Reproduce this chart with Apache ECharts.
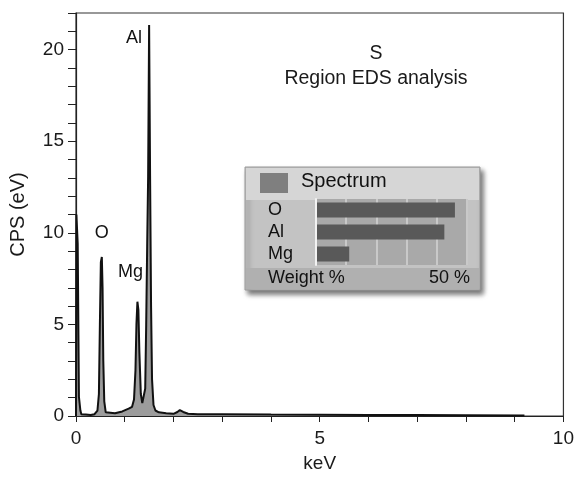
<!DOCTYPE html>
<html lang="en">
<head>
    <meta charset="UTF-8">
    <title>Region EDS analysis</title>
    <script src="https://cdn.jsdelivr.net/npm/echarts@6/dist/echarts.min.js"></script>
    <style>
        * {padding: 0; margin: 0;}
        body {background: #fff;}
        #main {width: 577px; height: 480px;}
    </style>
</head>
<body>
    <div id="main"></div>

    <script>
        // spectrum
        const energy = [0, 0.008, 0.022, 0.035, 0.045, 0.06, 0.07, 0.09, 0.11, 0.14, 0.2,
            0.3, 0.38, 0.44, 0.47, 0.49, 0.51, 0.53, 0.545, 0.56, 0.58,
            0.61, 0.65, 0.8, 0.95, 1.08, 1.15, 1.19, 1.22, 1.24, 1.26,
            1.28, 1.30, 1.33, 1.36, 1.39, 1.42, 1.44, 1.46, 1.48, 1.50,
            1.52, 1.54, 1.56, 1.59, 1.63, 1.7, 1.85, 2.0, 2.08, 2.13,
            2.2, 2.3, 2.5, 3, 4, 5, 6, 7, 8, 9.2]
        const cps = [0, 11.0, 11.0, 9.4, 9.4, 1.05, 1.0, 0.3, 0.1, 0.05, 0.08,
            0.05, 0.1, 0.3, 1.2, 5.0, 8.4, 8.68, 7.0, 3.0, 0.8,
            0.2, 0.1, 0.15, 0.25, 0.4, 0.5, 0.9, 2.5, 5.0, 6.24,
            5.8, 3.5, 1.2, 0.7, 0.6, 1.5, 5.0, 9.24, 13.1, 21.34,
            13.1, 6.0, 2.0, 0.6, 0.3, 0.2, 0.15, 0.12, 0.22, 0.32,
            0.22, 0.12, 0.1, 0.1, 0.08, 0.07, 0.06, 0.05, 0.04, 0.03]

        // peak annotations (keV, cps)
        const peakNames = ['Al', 'O', 'Mg']
        const peakLabelX = [1.19, 0.53, 1.12]
        const peakLabelY = [20.65, 10.0, 7.85]

        // inset: weight %
        const elements = ['O', 'Al', 'Mg']
        const weights = [46, 42.5, 11]

        const xTickLabels = [0, 5, 10]
        const yTickLabels = [0, 5, 10, 15, 20]

        const font = 'Liberation Sans, Arial, sans-serif'
        const chart = echarts.init(document.getElementById('main'))

        chart.setOption({
            animation: false,
            title: {
                text: 'S\nRegion EDS analysis',
                left: 371,
                top: 36,
                textAlign: 'center',
                textStyle: {fontFamily: font, fontSize: 19.5, fontWeight: 'normal', color: '#1a1a1a', lineHeight: 25}
            },
            grid: [
                {left: 76, right: 13, top: 13, bottom: 64, show: true, borderColor: '#333', borderWidth: 1.2, z: 0},
                {left: 316, top: 199, width: 151, height: 66, show: true, backgroundColor: '#a9a9a9', borderWidth: 0, z: 5}
            ],
            xAxis: [{
                type: 'value',
                gridIndex: 0,
                min: 0, max: 10, interval: 1,
                name: 'keV',
                nameLocation: 'middle',
                nameGap: 38,
                nameTextStyle: {fontFamily: font, fontSize: 19, color: '#1a1a1a'},
                axisLine: {lineStyle: {color: '#222', width: 1.2}},
                axisTick: {length: 6, lineStyle: {color: '#222'}},
                axisLabel: {
                    margin: 13, fontFamily: font, fontSize: 19, color: '#1a1a1a',
                    formatter: v => xTickLabels.includes(v) ? String(v) : ''
                },
                splitLine: {show: false}
            }, {
                type: 'value',
                gridIndex: 1,
                z: 6,
                min: 0, max: 50, interval: 10,
                axisLine: {show: false},
                axisTick: {show: false},
                axisLabel: {show: false},
                splitLine: {show: true, lineStyle: {color: '#c9c9c9', width: 2}}
            }],
            yAxis: [{
                type: 'value',
                gridIndex: 0,
                min: 0, max: 22, interval: 1,
                name: 'CPS (eV)',
                nameLocation: 'middle',
                nameGap: 48,
                nameTextStyle: {fontFamily: font, fontSize: 20, color: '#1a1a1a'},
                axisLine: {show: true, lineStyle: {color: '#222', width: 1.2}},
                axisTick: {show: true, length: 8, lineStyle: {color: '#222'}},
                axisLabel: {
                    margin: 12, fontFamily: font, fontSize: 19, color: '#1a1a1a',
                    formatter: v => yTickLabels.includes(v) ? String(v) : ''
                },
                splitLine: {show: false}
            }, {
                type: 'category',
                gridIndex: 1,
                z: 10,
                data: elements,
                inverse: true,
                axisLine: {show: true, lineStyle: {color: '#f2f2f2', width: 2}},
                axisTick: {show: false},
                axisLabel: {interval: 0, align: 'left', margin: 48, fontFamily: font, fontSize: 18, color: '#111'}
            }],
            graphic: [
                {type: 'rect', z: 1, shape: {x: 245, y: 167, width: 235, height: 123},
                    style: {fill: '#c3c3c3', stroke: '#9a9a9a', lineWidth: 1, shadowBlur: 5, shadowOffsetX: 3, shadowOffsetY: 4, shadowColor: 'rgba(0,0,0,0.55)'}},
                {type: 'rect', z: 2, shape: {x: 246, y: 168, width: 233, height: 32}, style: {fill: '#d6d6d6'}},
                {type: 'rect', z: 2, shape: {x: 246, y: 268, width: 233, height: 21}, style: {fill: '#b0b0b0'}},
                {type: 'rect', z: 3, shape: {x: 260, y: 173, width: 28, height: 20}, style: {fill: '#7f7f7f'}},
                {type: 'text', z: 3, left: 301, top: 171,
                    style: {text: 'Spectrum', font: '20px ' + font, fill: '#111'}},
                {type: 'text', z: 3, left: 268, top: 269,
                    style: {text: 'Weight %', font: '18px ' + font, fill: '#111'}},
                {type: 'text', z: 3, right: 107, top: 269,
                    style: {text: '50 %', font: '18px ' + font, fill: '#111'}}
            ],
            series: [{
                type: 'line',
                xAxisIndex: 0, yAxisIndex: 0,
                data: energy.map((e, i) => [e, cps[i]]),
                symbol: 'none',
                lineStyle: {color: '#111', width: 2},
                areaStyle: {color: '#9c9c9c', opacity: 1},
                z: 2
            }, {
                type: 'scatter',
                xAxisIndex: 0, yAxisIndex: 0,
                data: peakNames.map((n, i) => ({name: n, value: [peakLabelX[i], peakLabelY[i]]})),
                symbolSize: 0,
                itemStyle: {color: '#111', opacity: 1},
                label: {
                    show: true, position: [0, 0], align: 'center', verticalAlign: 'middle',
                    formatter: p => p.name, fontFamily: font, fontSize: 18, color: '#111', opacity: 1
                },
                z: 3
            }, {
                type: 'bar',
                xAxisIndex: 1, yAxisIndex: 1,
                data: weights,
                barWidth: 15,
                itemStyle: {color: '#595959'},
                z: 7
            }]
        })
    </script>
</body>
</html>
